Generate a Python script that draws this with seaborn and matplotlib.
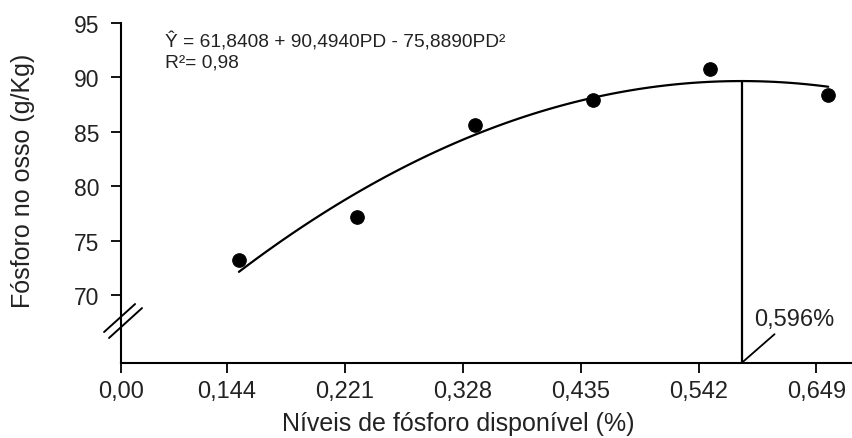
import numpy as np
import pandas as pd
import matplotlib.pyplot as plt
import seaborn as sns

# niveis de fosforo disponivel (%) x fosforo no osso (g/Kg)
levels = ["0,144", "0,221", "0,328", "0,435", "0,542", "0,649"]
bone_p = [73.2, 77.2, 85.6, 87.9, 90.8, 88.4]
y_ticks = [70, 75, 80, 85, 90, 95]
eq_text = "Ŷ = 61,8408 + 90,4940PD - 75,8890PD²"
r2_text = "R²= 0,98"
opt_label = "0,596%"

df = pd.DataFrame({"pos": np.arange(1, len(levels) + 1), "p": bone_p})

sns.set_style("ticks")
plt.rcParams["font.family"] = ["Liberation Sans", "DejaVu Sans"]

fig = plt.figure(figsize=(8.53, 4.39), dpi=100)
ax = fig.add_axes([0.1419, 0.1708, 0.8581, 0.7745])

# quadratic fit + points
sns.regplot(data=df, x="pos", y="p", order=2, ci=None, scatter=False, ax=ax,
            line_kws=dict(color="black", lw=1.6))
sns.scatterplot(data=df, x="pos", y="p", ax=ax, color="black", s=95,
                edgecolor="black", zorder=3)

ymin, ymax = 63.75, 95
ax.set_xlim(0, 6.21)
ax.set_ylim(ymin, ymax)

# vertex of the fitted curve
c = np.polyfit(df["pos"], df["p"], 2)
xv = -c[1] / (2 * c[0])
yv = np.polyval(c, xv)
ax.plot([xv, xv], [ymin, yv], color="black", lw=1.6)
ax.plot([xv, xv + 0.28], [ymin, 66.4], color="black", lw=1.3, clip_on=False)
ax.text(xv + 0.45, 67.8, opt_label, ha="center", va="center", fontsize=17,
        color="#222222")

# axis break marks
ax.plot([-0.144, 0.119], [66.6, 69.17], color="black", lw=1.4, clip_on=False)
ax.plot([-0.102, 0.178], [66.05, 68.8], color="black", lw=1.4, clip_on=False)

ax.text(0.06, 0.932, eq_text, transform=ax.transAxes, fontsize=13.8,
        va="baseline", color="#222222")
ax.text(0.06, 0.871, r2_text, transform=ax.transAxes, fontsize=13.8,
        va="baseline", color="#222222")

ax.set_xticks([0] + list(df["pos"] - 0.1))
ax.set_xticklabels(["0,00"] + levels)
ax.set_yticks(y_ticks)
ax.tick_params(axis="both", direction="out", length=7.5, width=1.3,
               color="black", labelsize=16.5, labelcolor="#222222")
ax.tick_params(axis="x", pad=5, labelsize=17)
ax.tick_params(axis="y", pad=8)

sns.despine(ax=ax)
for s in ["left", "bottom"]:
    ax.spines[s].set_linewidth(1.5)
    ax.spines[s].set_color("black")

ax.set_xlabel("Níveis de fósforo disponível (%)", fontsize=18, color="#222222")
ax.set_ylabel("Fósforo no osso (g/Kg)", fontsize=18, color="#222222")
ax.xaxis.set_label_coords(0.461, -0.141)
ax.yaxis.set_label_coords(-0.118, 0.54)

fig.savefig("out.png", dpi=100)
